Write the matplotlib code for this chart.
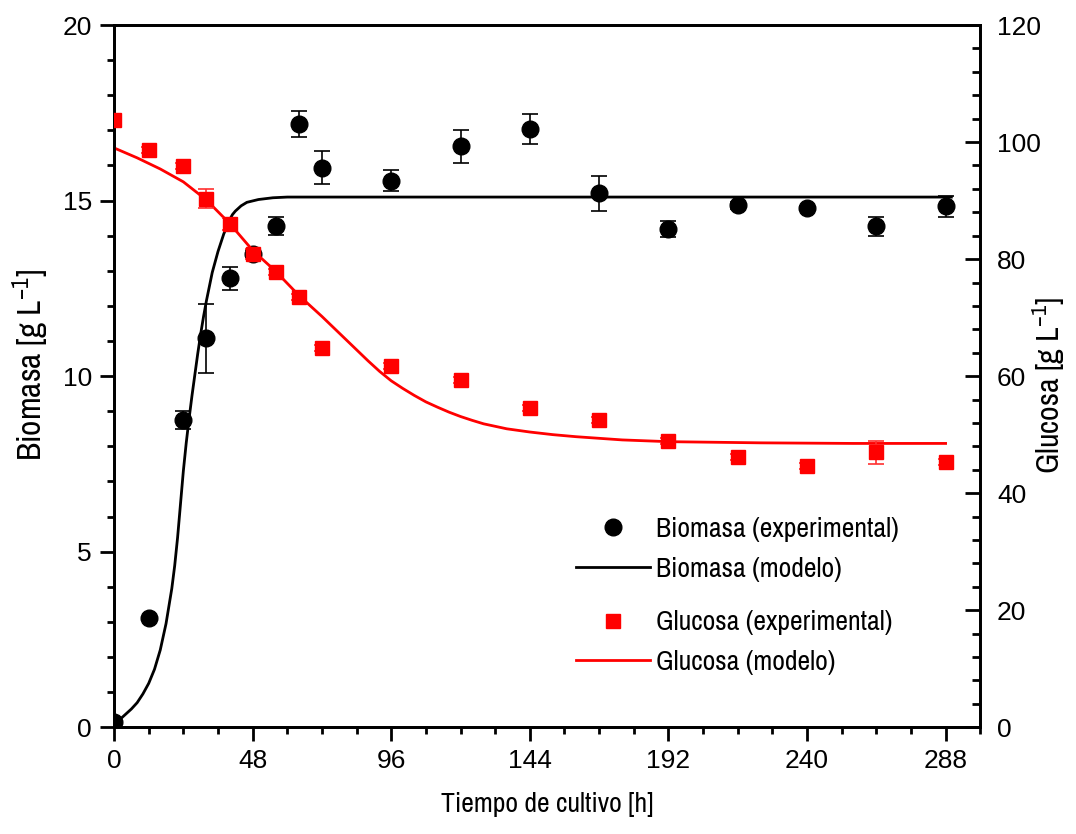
import matplotlib
matplotlib.use("Agg")
import matplotlib.pyplot as plt
from matplotlib import font_manager
from matplotlib.font_manager import FontProperties
from matplotlib.lines import Line2D
from matplotlib.ticker import MultipleLocator

# experimental data
tiempo = [0, 12, 24, 32, 40, 48, 56, 64, 72, 96, 120, 144, 168, 192, 216, 240, 264, 288]
biomasa = [0.15, 3.1, 8.75, 11.08, 12.79, 13.48, 14.27, 17.18, 15.93, 15.56,
           16.55, 17.04, 15.21, 14.19, 14.87, 14.79, 14.27, 14.84]
biomasa_err = [0.05, 0.05, 0.25, 0.98, 0.33, 0.1, 0.26, 0.36, 0.47, 0.3,
               0.47, 0.43, 0.5, 0.24, 0.1, 0.05, 0.27, 0.3]
glucosa = [103.8, 98.6, 95.9, 90.3, 86.0, 80.9, 77.8, 73.5, 64.8, 61.7,
           59.3, 54.5, 52.5, 48.9, 46.2, 44.6, 47.0, 45.3]
glucosa_err = [0.3, 0.5, 0.5, 1.6, 1.0, 0.8, 0.5, 0.5, 0.5, 0.5,
               0.5, 0.5, 0.5, 0.5, 0.5, 0.5, 2.0, 0.5]

# model curves
t_mod_x = [0, 2, 4, 6, 8, 10, 12, 14, 16, 18, 19, 20, 21, 22, 23, 24, 25, 26, 27,
           28, 29, 30, 31, 32, 33, 34, 35, 36, 37, 38, 39, 40, 41, 42, 44, 46,
           50, 55, 60, 290]
x_mod = [0.12, 0.22, 0.37, 0.52, 0.7, 0.95, 1.25, 1.65, 2.2, 2.95, 3.45, 3.95, 4.6,
         5.4, 6.35, 7.3, 8.1, 8.8, 9.45, 10.05, 10.65, 11.2, 11.7, 12.15, 12.55,
         12.95, 13.25, 13.55, 13.8, 14.05, 14.25, 14.45, 14.6, 14.7, 14.85,
         14.95, 15.03, 15.08, 15.1, 15.1]
t_mod_s = [0, 8, 16, 24, 32, 40, 48, 56, 64, 72, 80, 84, 88, 92, 96, 100, 104,
           108, 112, 116, 120, 124, 128, 136, 144, 152, 160, 176, 192, 224, 256, 288]
s_mod = [99.0, 97.3, 95.4, 93.2, 90.1, 86.1, 81.5, 77.9, 73.8, 70.2, 66.4, 64.5,
         62.6, 60.8, 59.2, 57.9, 56.7, 55.6, 54.7, 53.85, 53.1, 52.45, 51.85,
         51.0, 50.45, 50.0, 49.65, 49.1, 48.8, 48.6, 48.5, 48.5]

# pick a narrow face for the labels if one is installed
def find_narrow():
    files = [f.fname for f in font_manager.fontManager.ttflist]
    ok = [p for p in files if not any(k in p.lower() for k in
                                      ('bold', 'oblique', 'italic', 'mono', 'light', 'thin', 'medium', 'black'))]
    for key in ('narrow', 'robotocondensed', 'condensed'):
        for p in ok:
            if key in p.lower().replace('-', '').replace('_', '').replace(' ', ''):
                return p
    return None

narrow = find_narrow()
if narrow:
    fam = FontProperties(fname=narrow).get_name()
    xl_size, yl_size, yr_size, leg_size = 20, 24, 23, 20
else:
    fam = 'Liberation Sans'
    xl_size, yl_size, yr_size, leg_size = 17, 20, 19, 16.5
plt.rcParams['mathtext.fontset'] = 'custom'
plt.rcParams['mathtext.rm'] = fam
plt.rcParams['mathtext.it'] = fam

def fp(size):
    return FontProperties(family=[fam, 'DejaVu Sans'], size=size)

fig = plt.figure(figsize=(10.76, 8.34), dpi=100)
ax = fig.add_axes([0.106, 0.128, 0.805, 0.842])
ax2 = ax.twinx()

# biomass
ax.errorbar(tiempo, biomasa, yerr=biomasa_err, fmt='none', ecolor='black',
            elinewidth=1.2, capsize=6, capthick=1.2, zorder=3)
ax.plot(tiempo, biomasa, 'o', color='black', markersize=12, zorder=4)
ax.plot(t_mod_x, x_mod, '-', color='black', linewidth=2)

# glucose
ax2.errorbar(tiempo, glucosa, yerr=glucosa_err, fmt='none', ecolor='#ff3030',
             elinewidth=1.2, capsize=6, capthick=1.2, zorder=3)
ax2.plot(tiempo, glucosa, 's', color='red', markersize=10, zorder=4)
ax2.plot(t_mod_s, s_mod, '-', color='red', linewidth=2)

ax.set_xlim(0, 300)
ax.set_ylim(0, 20)
ax2.set_ylim(0, 120)

ax.xaxis.set_major_locator(MultipleLocator(48))
ax.xaxis.set_minor_locator(MultipleLocator(12))
ax.yaxis.set_major_locator(MultipleLocator(5))
ax.yaxis.set_minor_locator(MultipleLocator(1))
ax2.yaxis.set_major_locator(MultipleLocator(20))
ax2.yaxis.set_minor_locator(MultipleLocator(4))

for a in (ax, ax2):
    for sp in a.spines.values():
        sp.set_linewidth(2)

ax.tick_params(axis='both', which='major', direction='out', length=10, width=2,
               labelsize=19, pad=6, top=False, right=False,
               labelfontfamily='Liberation Sans')
ax.tick_params(axis='both', which='minor', direction='out', length=5, width=2,
               top=False, right=False)
ax2.yaxis.set_tick_params(which='major', direction='in', length=11, width=2,
                          labelsize=19, pad=12, labelfontfamily='Liberation Sans')
ax2.yaxis.set_tick_params(which='minor', direction='in', length=5.5, width=2)

ax.set_xlabel('Tiempo de cultivo [h]', fontproperties=fp(xl_size), labelpad=13)
ax.set_ylabel(r'Biomasa [g L$^{\mathregular{-1}}$]', fontproperties=fp(yl_size))
ax2.set_ylabel(r'Glucosa [g L$^{\mathregular{-1}}$]', fontproperties=fp(yr_size))
ax.yaxis.set_label_coords(-0.073, 0.516)
ax2.yaxis.set_label_coords(1.058, 0.486)

# legends, two groups
h1 = [Line2D([], [], marker='o', color='black', linestyle='none', markersize=12),
      Line2D([], [], color='black', linewidth=2)]
h2 = [Line2D([], [], marker='s', color='red', linestyle='none', markersize=10),
      Line2D([], [], color='red', linewidth=2)]
ax.legend(h1, ['Biomasa (experimental)', 'Biomasa (modelo)'],
          loc='upper left', bbox_to_anchor=(0.535, 0.380),
          bbox_transform=fig.transFigure, frameon=False, prop=fp(leg_size),
          handlelength=2.66, handletextpad=0.25, labelspacing=0.52,
          borderpad=0, borderaxespad=0)
ax2.legend(h2, ['Glucosa (experimental)', 'Glucosa (modelo)'],
           loc='upper left', bbox_to_anchor=(0.535, 0.268),
           bbox_transform=fig.transFigure, frameon=False, prop=fp(leg_size),
           handlelength=2.66, handletextpad=0.25, labelspacing=0.52,
           borderpad=0, borderaxespad=0)

fig.savefig('out.png', dpi=100)
